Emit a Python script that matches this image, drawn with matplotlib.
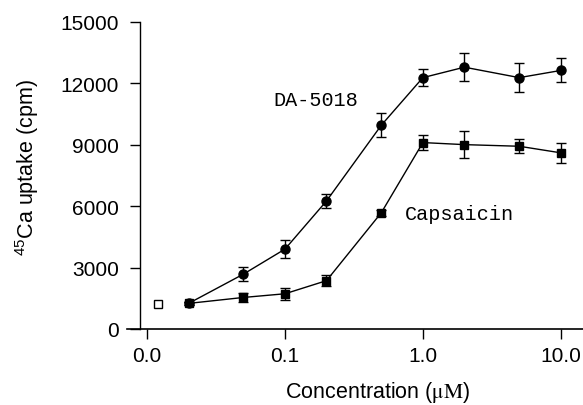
import matplotlib
matplotlib.use("Agg")
import matplotlib.pyplot as plt
from matplotlib.ticker import FixedLocator, FixedFormatter, NullLocator

# ---- data ----
conc = [0.02, 0.05, 0.1, 0.2, 0.5, 1.0, 2.0, 5.0, 10.0]
da5018 = [1250, 2680, 3900, 6250, 9950, 12270, 12780, 12270, 12620]
da5018_err = [80, 340, 430, 325, 570, 430, 680, 715, 585]
capsaicin = [1250, 1540, 1720, 2360, 5680, 9100, 9000, 8920, 8600]
capsaicin_err = [80, 230, 300, 285, 150, 350, 650, 340, 490]
control_x = [0.012]
control_y = [1200]
xticks = [0.01, 0.1, 1.0, 10.0]
xticklabels = ["0.0", "0.1", "1.0", "10.0"]
yticks = [0, 3000, 6000, 9000, 12000, 15000]

plt.rcParams['font.family'] = ['Liberation Sans', 'DejaVu Sans']
plt.rcParams['mathtext.fontset'] = 'custom'
plt.rcParams['mathtext.rm'] = 'Liberation Sans'
plt.rcParams['mathtext.it'] = 'Liberation Sans:italic'

W, H = 583, 406
fig = plt.figure(figsize=(W / 100, H / 100), dpi=100)
ax_l, ax_r, ax_t, ax_b = 127, 583, 20, 330
ax = fig.add_axes([ax_l / W, (H - ax_b) / H, (ax_r - ax_l) / W, (ax_b - ax_t) / H])

ax.set_xscale('log')
ax.set_xlim(0.007147, 14.5)
ax.set_ylim(0, 15132)

ekw = dict(color='black', lw=1.0, capsize=3.8, capthick=1.0, elinewidth=1.0)
ax.errorbar(conc, da5018, yerr=da5018_err, fmt='-o', ms=6.5, mfc='black', mec='black', **ekw)
ax.errorbar(conc, capsaicin, yerr=capsaicin_err, fmt='-s', ms=6.0, mfc='black', mec='black', **ekw)
ax.plot(control_x, control_y, 's', ms=5.5, mfc='white', mec='black', mew=1.0)

for s in ['top', 'right']:
    ax.spines[s].set_visible(False)
ax.spines['left'].set_position(('axes', (140 - ax_l) / (ax_r - ax_l)))
ax.spines['left'].set_bounds(0, 15000)
ax.spines['left'].set_linewidth(1.0)
ax.spines['bottom'].set_linewidth(1.2)

ax.xaxis.set_major_locator(FixedLocator(xticks))
ax.xaxis.set_major_formatter(FixedFormatter(xticklabels))
ax.xaxis.set_minor_locator(NullLocator())
ax.set_yticks(yticks)
ax.tick_params(axis='both', direction='out', length=7.2, width=1.0, labelsize=15)
ax.tick_params(axis='y', pad=8)
ax.tick_params(axis='x', pad=5)

ax.set_xlabel('Concentration ($\\mathrm{\\mu M}$)', fontsize=15.5, math_fontfamily='stix')
ax.xaxis.set_label_coords((378 - ax_l) / (ax_r - ax_l), (ax_b - 393) / (ax_b - ax_t))
ax.xaxis.label.set_va('center')
ax.set_ylabel('$^{45}$Ca uptake (cpm)', fontsize=15.5)
ax.yaxis.set_label_coords((27 - ax_l) / (ax_r - ax_l), (ax_b - 167) / (ax_b - ax_t))
ax.yaxis.label.set_va('center')

ax.text(0.0818, 11210, 'DA-5018', family='Liberation Mono', fontsize=14.5, va='center', ha='left')
ax.text(0.742, 5615, 'Capsaicin', family='Liberation Mono', fontsize=14.5, va='center', ha='left')

fig.savefig('out.png', dpi=100)
